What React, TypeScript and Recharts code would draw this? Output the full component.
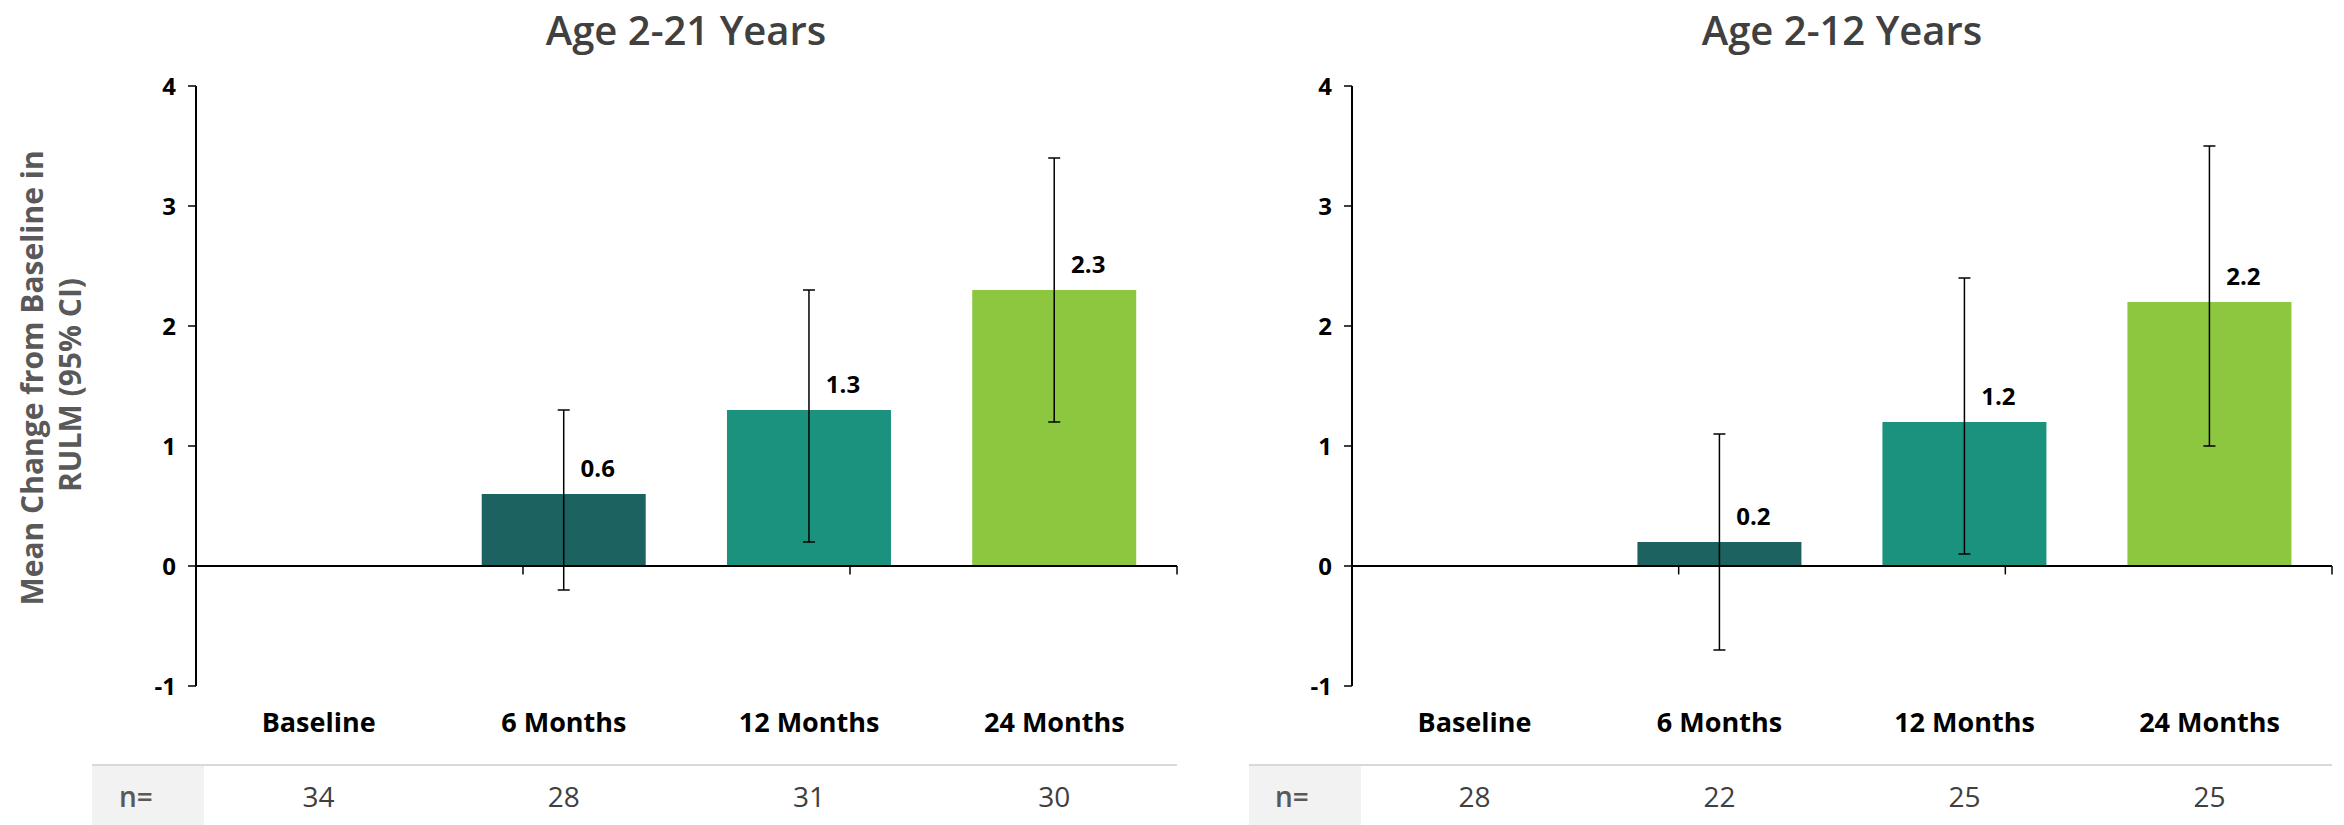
import React from 'react';
import {
  BarChart,
  Bar,
  XAxis,
  YAxis,
  ErrorBar,
  Cell,
  LabelList,
  ReferenceLine,
} from 'recharts';

// Time points shared by both panels
const categories = ['Baseline', '6 Months', '12 Months', '24 Months'];

// Age 2-21 years: mean change and 95% CI bounds
const meanAll = [0, 0.6, 1.3, 2.3];
const lowAll: (number | null)[] = [null, -0.2, 0.2, 1.2];
const highAll: (number | null)[] = [null, 1.3, 2.3, 3.4];
const nAll = [34, 28, 31, 30];

// Age 2-12 years: mean change and 95% CI bounds
const meanYoung = [0, 0.2, 1.2, 2.2];
const lowYoung: (number | null)[] = [null, -0.7, 0.1, 1.0];
const highYoung: (number | null)[] = [null, 1.1, 2.4, 3.5];
const nYoung = [28, 22, 25, 25];

const yTicks = [-1, 0, 1, 2, 3, 4];
const categoryEdges = [1, 2, 3, 4];
const barColors = ['#ffffff', '#1b6261', '#1a927e', '#8dc63f'];

const FONT = '"Open Sans", "Noto Sans", sans-serif';

type Row = {
  label: string;
  mean: number;
  err: [number, number] | null;
  n: number;
};

function buildRows(mean: number[], low: (number | null)[], high: (number | null)[], n: number[]): Row[] {
  return categories.map((label, i) => {
    const lo = low[i];
    const hi = high[i];
    return {
      label,
      mean: mean[i],
      err: lo == null || hi == null ? null : [mean[i] - lo, hi - mean[i]],
      n: n[i],
    };
  });
}

// Category name under the plot, with the sample size in the n= row below it
const makeCategoryTick = (rows: Row[]) => (props: any) => {
  const { x, y, payload } = props;
  const row = rows.find((r) => r.label === payload.value);
  return (
    <g>
      <text x={x} y={y + 46} textAnchor="middle" fontFamily={FONT} fontSize={27} fontWeight={700} fill="#000">
        {payload.value}
      </text>
      <text x={x} y={y + 121} textAnchor="middle" fontFamily={FONT} fontSize={28} fontWeight={400} fill="#404040">
        {row ? row.n : ''}
      </text>
    </g>
  );
};

const ValueLabel = (props: any) => {
  const { x, y, width, value } = props;
  if (!value) return null;
  return (
    <text
      x={Number(x) + Number(width) / 2 + 34}
      y={Number(y) - 17}
      textAnchor="middle"
      fontFamily={FONT}
      fontSize={24}
      fontWeight={700}
      fill="#000"
    >
      {Number(value).toFixed(1)}
    </text>
  );
};

type PanelProps = {
  rows: Row[];
  left: number;
  width: number;
  marginLeft: number;
  marginRight: number;
};

function Panel({ rows, left, width, marginLeft, marginRight }: PanelProps) {
  const CategoryTick = makeCategoryTick(rows);
  return (
    <div style={{ position: 'absolute', left, top: 0 }}>
      <BarChart
        width={width}
        height={825}
        data={rows}
        margin={{ top: 86, right: marginRight, bottom: 0, left: marginLeft }}
        barCategoryGap="16.5%"
      >
        <XAxis
          xAxisId="cat"
          dataKey="label"
          type="category"
          axisLine={false}
          tickLine={false}
          tickSize={0}
          tickMargin={0}
          height={139}
          tick={<CategoryTick />}
          interval={0}
        />
        <XAxis xAxisId="grid" type="number" domain={[0, 4]} hide allowDataOverflow />
        <YAxis
          domain={[-1, 4]}
          ticks={yTicks}
          interval={0}
          width={60}
          axisLine={{ stroke: '#000', strokeWidth: 2 }}
          tickLine={{ stroke: '#000', strokeWidth: 1.5 }}
          tickSize={8}
          tickMargin={12}
          tick={{ fill: '#000', fontSize: 24, fontWeight: 700, fontFamily: FONT }}
          allowDataOverflow
        />
        <ReferenceLine xAxisId="grid" y={0} stroke="#000" strokeWidth={2} />
        {categoryEdges.map((edge) => (
          <ReferenceLine
            key={edge}
            xAxisId="grid"
            segment={[
              { x: edge, y: 0 },
              { x: edge, y: -0.07 },
            ]}
            stroke="#000"
            strokeWidth={1.5}
          />
        ))}
        <Bar xAxisId="cat" dataKey="mean" isAnimationActive={false}>
          {rows.map((r, i) => (
            <Cell key={r.label} fill={barColors[i]} />
          ))}
          <ErrorBar dataKey="err" width={6} stroke="#000" strokeWidth={1.5} direction="y" />
          <LabelList dataKey="mean" content={<ValueLabel />} />
        </Bar>
      </BarChart>
    </div>
  );
}

const rowsAll = buildRows(meanAll, lowAll, highAll, nAll);
const rowsYoung = buildRows(meanYoung, lowYoung, highYoung, nYoung);

export default function App() {
  return (
    <div style={{ position: 'absolute', left: 0, top: 0, width: 2344, height: 825, background: '#fff', overflow: 'hidden' }}>
      <svg width={2344} height={825} style={{ position: 'absolute', left: 0, top: 0 }}>
        {/* n= count rows */}
        <rect x={92} y={766} width={112} height={59} fill="#f2f2f2" />
        <rect x={92} y={764} width={1085} height={2} fill="#d9d9d9" />
        <rect x={1249} y={766} width={112} height={59} fill="#f2f2f2" />
        <rect x={1249} y={764} width={1083} height={2} fill="#d9d9d9" />
        <text x={119} y={807} fontFamily={FONT} fontSize={28} fontWeight={600} fill="#595959">
          n=
        </text>
        <text x={1275} y={807} fontFamily={FONT} fontSize={28} fontWeight={600} fill="#595959">
          n=
        </text>

        {/* panel titles */}
        <text x={686} y={45} textAnchor="middle" fontFamily={FONT} fontSize={40} fontWeight={600} fill="#404040">
          Age 2-21 Years
        </text>
        <text x={1842} y={45} textAnchor="middle" fontFamily={FONT} fontSize={40} fontWeight={600} fill="#404040">
          Age 2-12 Years
        </text>

        {/* shared y-axis title */}
        <g transform="rotate(-90)">
          <text x={-378} y={43} textAnchor="middle" fontFamily={FONT} fontSize={30} fontWeight={700} fill="#595959">
            Mean Change from Baseline in
          </text>
          <text x={-385} y={81} textAnchor="middle" fontFamily={FONT} fontSize={30} fontWeight={700} fill="#595959">
            RULM (95% CI)
          </text>
        </g>
      </svg>
      <Panel rows={rowsAll} left={0} width={1190} marginLeft={136} marginRight={13} />
      <Panel rows={rowsYoung} left={1190} width={1154} marginLeft={102} marginRight={12} />
    </div>
  );
}
